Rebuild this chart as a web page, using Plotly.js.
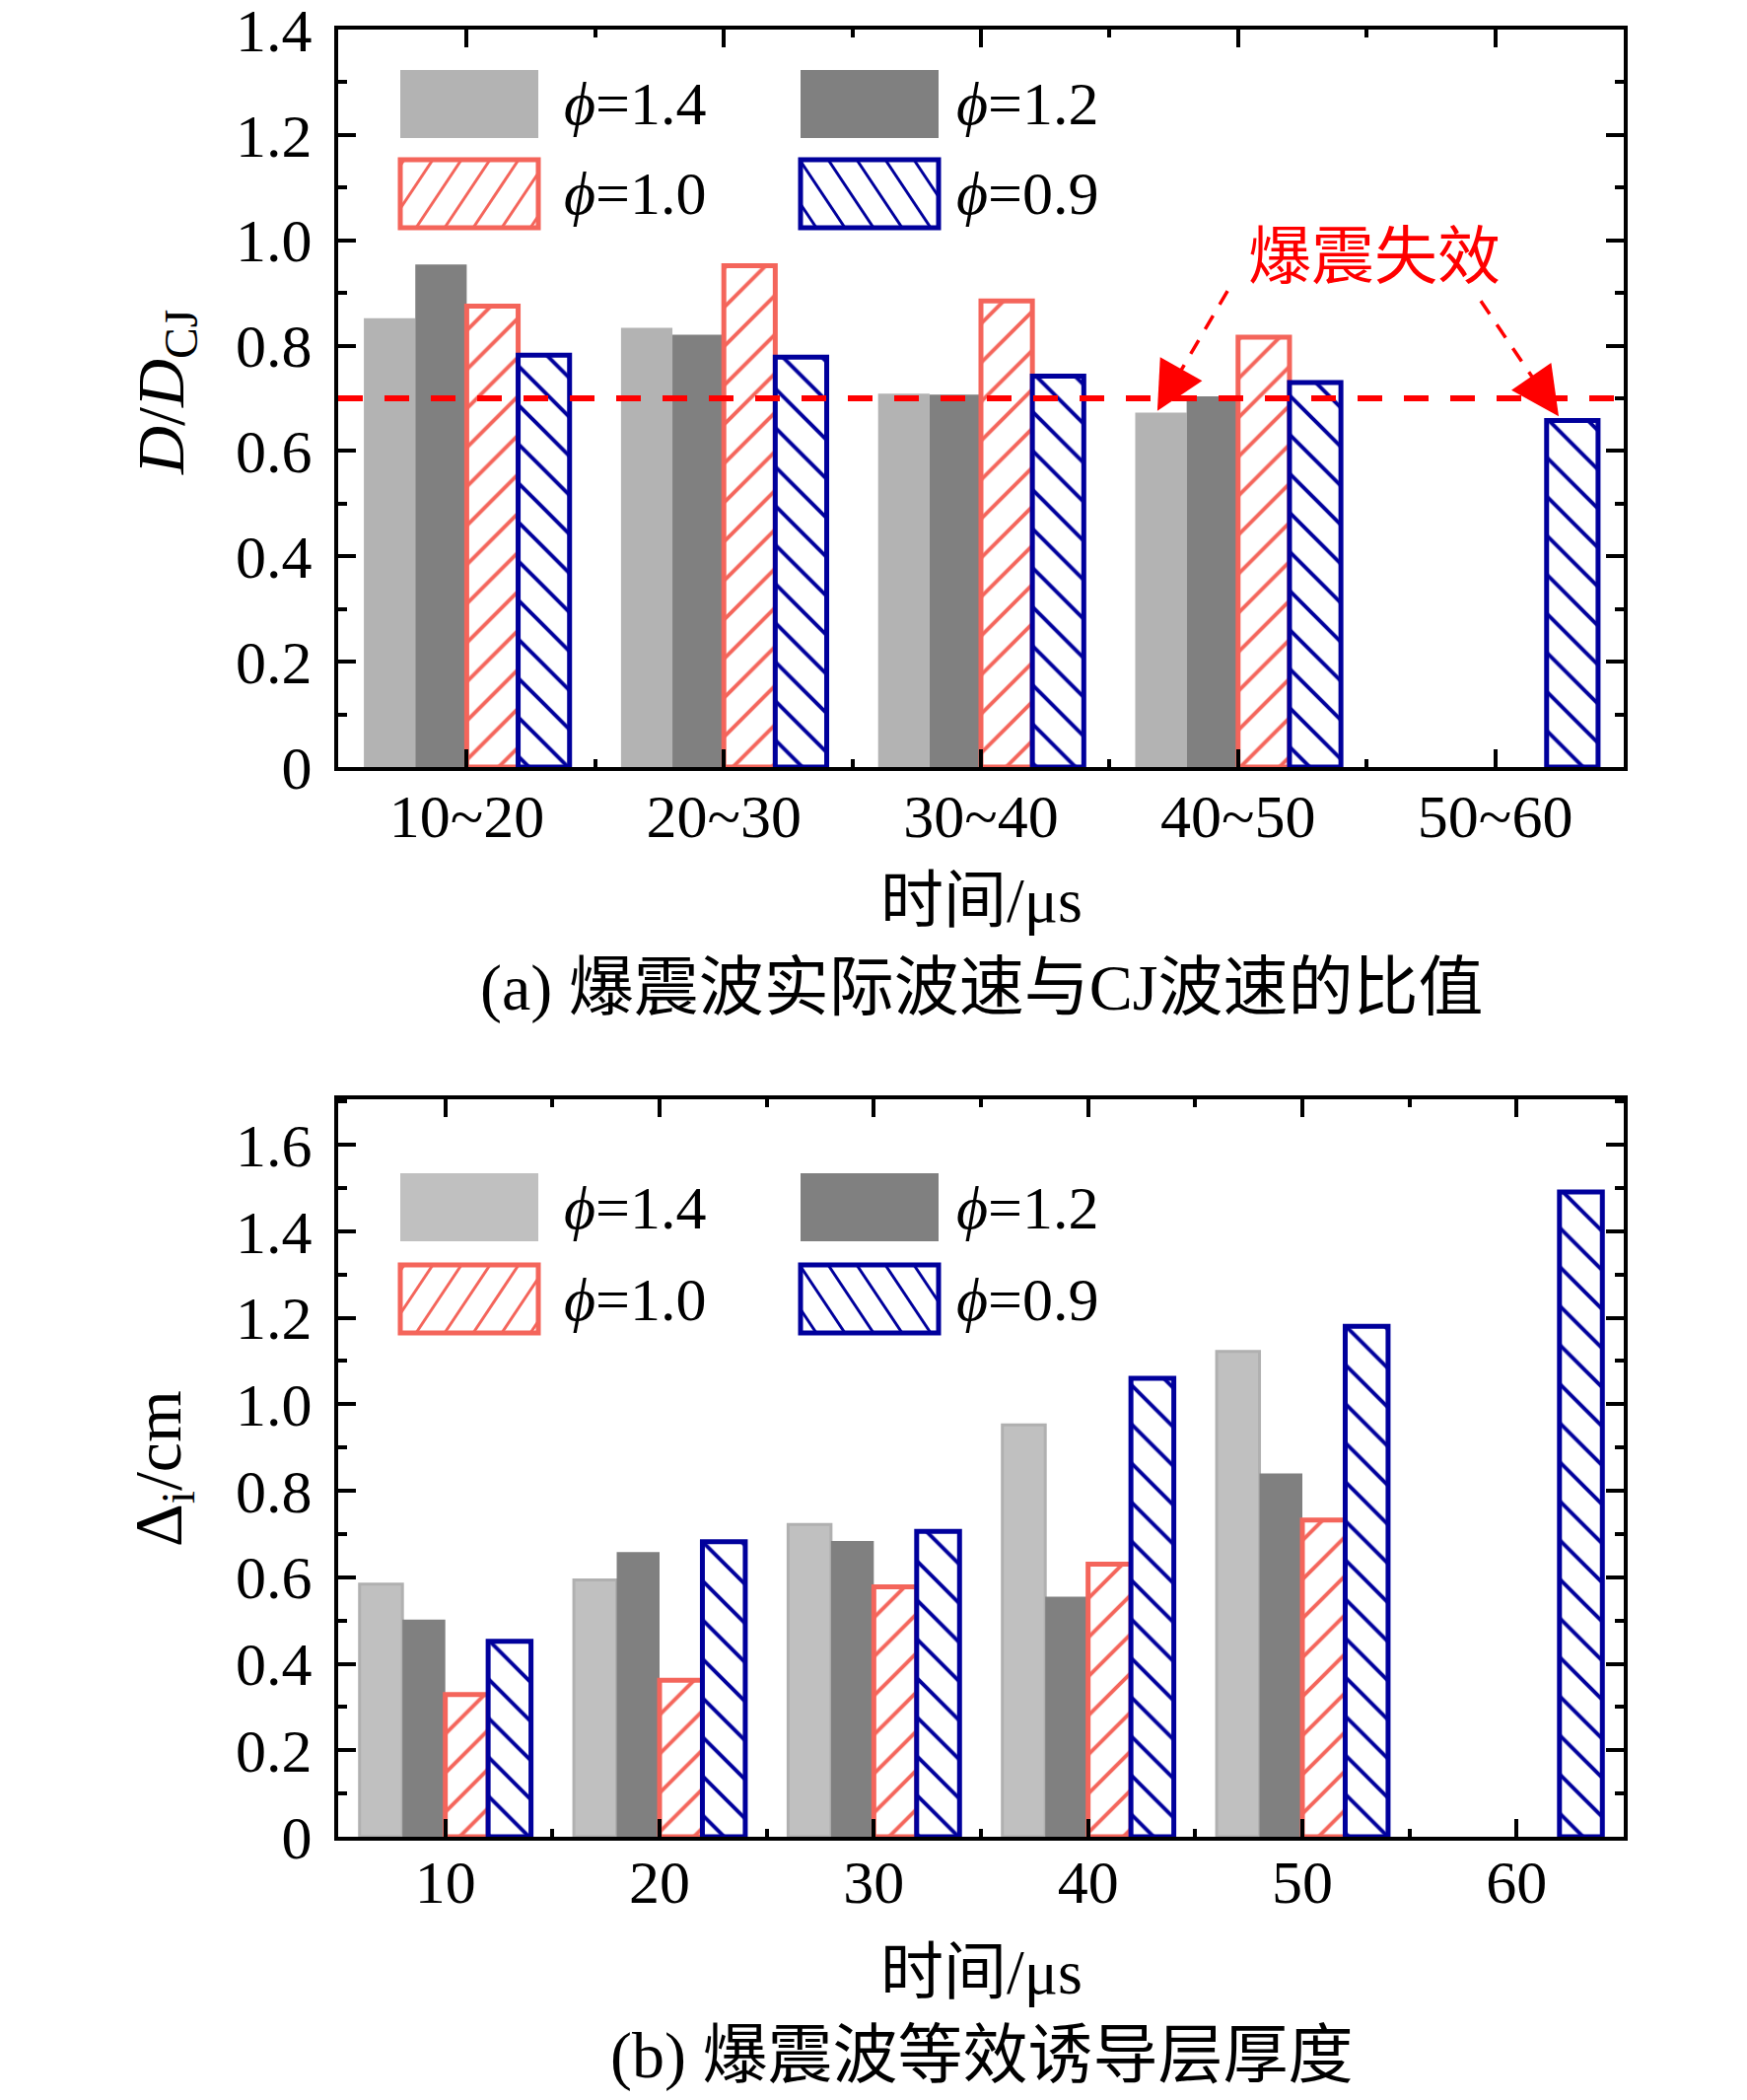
<!DOCTYPE html>
<html>
<head>
<meta charset="utf-8">
<script src="https://cdn.plot.ly/plotly-3.0.1.min.js"></script>
<style>
  html, body { margin: 0; padding: 0; background: #fff; }
  #chart { width: 1772px; height: 2130px; }
</style>
</head>
<body>
<div id="chart"></div>
<script>
// ---- data ----
const timeA = ['10~20', '20~30', '30~40', '40~50', '50~60'];
const ratio14 = [0.852, 0.834, 0.709, 0.673, null];
const ratio12 = [0.954, 0.821, 0.707, 0.704, null];
const ratio10 = [0.875, 0.952, 0.885, 0.816, null];
const ratio09 = [0.782, 0.778, 0.742, 0.730, 0.658];
const failLimit = 0.70;

const timeB = ['10', '20', '30', '40', '50', '60'];
const thick14 = [0.584, 0.594, 0.722, 0.952, 1.122, null];
const thick12 = [0.502, 0.658, 0.684, 0.555, 0.840, null];
const thick10 = [0.329, 0.362, 0.578, 0.630, 0.732, null];
const thick09 = [0.452, 0.682, 0.706, 1.060, 1.180, 1.491];

const seriesNames = ['<i>ϕ</i>=1.4', '<i>ϕ</i>=1.2', '<i>ϕ</i>=1.0', '<i>ϕ</i>=0.9'];
const yTicksA = ['0', '0.2', '0.4', '0.6', '0.8', '1.0', '1.2', '1.4'];
const yTicksB = ['0', '0.2', '0.4', '0.6', '0.8', '1.0', '1.2', '1.4', '1.6'];

// ---- look ----
const FONT = 'Liberation Serif, Times New Roman, Noto Sans CJK SC, serif';
const GREY_L = '#b3b3b3', GREY_L2 = '#c0c0c0', GREY_D = '#808080';
const RED = '#f4655b', NAVY = '#00009c', FAIL = '#ff0000';

// figure geometry in pixels
const W = 1772, H = 2130;
const M = {l: 343, r: 125, t: 30, b: 267};
const PW = W - M.l - M.r, PH = H - M.t - M.b;
const px = x => (x - M.l) / PW;
const py = y => (H - M.b - y) / PH;

function barTraces(xs, vals, xa, ya, light) {
    const idx = xs.map((_, i) => i);
    return [
        {x: idx, y: vals[0], type: 'bar', xaxis: xa, yaxis: ya,
         marker: {color: light, line: {color: light === GREY_L2 ? '#b0b0b0' : light, width: light === GREY_L2 ? 3 : 0}}},
        {x: idx, y: vals[1], type: 'bar', xaxis: xa, yaxis: ya,
         marker: {color: GREY_D, line: {width: 0}}},
        {x: idx, y: vals[2], type: 'bar', xaxis: xa, yaxis: ya,
         marker: {color: 'white', line: {color: RED, width: 5},
                  pattern: {shape: '/', fgcolor: RED, bgcolor: 'white', size: 28, solidity: 0.14}}},
        {x: idx, y: vals[3], type: 'bar', xaxis: xa, yaxis: ya,
         marker: {color: 'white', line: {color: NAVY, width: 5},
                  pattern: {shape: '\\', fgcolor: NAVY, bgcolor: 'white', size: 28, solidity: 0.14}}}
    ].map(t => Object.assign(t, {showlegend: false, hoverinfo: 'skip'}));
}

// hatch lines clipped to a pixel rectangle, returned as paper-coord shapes
function hatch(x0, y0, x1, y1, dir, step, color, width) {
    const out = [];
    const k = 1.5;                    // legend hatch is steeper than 45 degrees
    for (let c = -3000; c < 5000; c += step) {
        // line through (c, y1) with slope k (screen coords, y down)
        const dx = dir === '/' ? 1 : -1;
        const pts = [];
        for (let t = -200; t <= 200; t += 0.5) {
            const x = c + dx * t, y = y1 - k * t;
            if (x >= x0 && x <= x1 && y >= y0 && y <= y1) pts.push([x, y]);
        }
        if (pts.length > 2) {
            const a = pts[0], b = pts[pts.length - 1];
            out.push({type: 'line', xref: 'paper', yref: 'paper',
                      x0: px(a[0]), y0: py(a[1]), x1: px(b[0]), y1: py(b[1]),
                      line: {color: color, width: width}});
        }
    }
    return out;
}

function legend(row1, row2, light) {
    const cols = [406, 812], wSw = 140, hSw = 69, textX = [570, 968];
    const shapes = [], notes = [];
    const rect = (x0, y0, fill, lc, lw) => ({
        type: 'rect', xref: 'paper', yref: 'paper',
        x0: px(x0), x1: px(x0 + wSw), y0: py(y0), y1: py(y0 + hSw),
        fillcolor: fill, line: {color: lc, width: lw}
    });
    shapes.push(rect(cols[0], row1, light, light, 0));
    shapes.push(rect(cols[1], row1, GREY_D, GREY_D, 0));
    shapes.push(rect(cols[0], row2, 'white', RED, 0));
    shapes.push(...hatch(cols[0], row2, cols[0] + wSw, row2 + hSw, '/', 29, RED, 3));
    shapes.push(rect(cols[0], row2, 'rgba(0,0,0,0)', RED, 5));
    shapes.push(rect(cols[1], row2, 'white', NAVY, 0));
    shapes.push(...hatch(cols[1], row2, cols[1] + wSw, row2 + hSw, '\\', 29, NAVY, 3));
    shapes.push(rect(cols[1], row2, 'rgba(0,0,0,0)', NAVY, 5));
    const rows = [row1, row1, row2, row2];
    seriesNames.forEach((name, i) => {
        notes.push({xref: 'paper', yref: 'paper', x: px(textX[i % 2]), y: py(rows[i] + hSw / 2),
                    xanchor: 'left', yanchor: 'middle', showarrow: false, text: name,
                    font: {family: FONT, size: 62, color: '#000'}});
    });
    return {shapes, notes};
}

const traces = [
    ...barTraces(timeA, [ratio14, ratio12, ratio10, ratio09], 'x', 'y', GREY_L),
    ...barTraces(timeB, [thick14, thick12, thick10, thick09], 'x2', 'y2', GREY_L2)
];

function xAxis(cats, domainAnchor, standoff) {
    return {
        anchor: domainAnchor, type: 'linear', range: [-0.5, cats.length - 0.5],
        tickmode: 'array', tickvals: cats.map((_, i) => i), ticktext: cats,
        ticks: 'inside', ticklen: 18, tickwidth: 4, tickcolor: '#000',
        minor: {tickmode: 'array', tickvals: cats.slice(1).map((_, i) => i + 0.5),
                ticks: 'inside', ticklen: 8, tickwidth: 4, tickcolor: '#000'},
        showline: true, linewidth: 4, linecolor: '#000', mirror: 'allticks',
        showgrid: false, zeroline: false, fixedrange: true, ticklabeloverflow: 'allow',
        tickfont: {family: FONT, size: 62, color: '#000'}, ticklabelstandoff: standoff
    };
}
function yAxis(labels, top, domain, anchor) {
    return {
        anchor: anchor, domain: domain, range: [0, top],
        tickmode: 'array', tickvals: labels.map(Number), ticktext: labels,
        ticks: 'inside', ticklen: 18, tickwidth: 4, tickcolor: '#000',
        minor: {tickmode: 'linear', tick0: 0, dtick: 0.1, ticks: 'inside', ticklen: 9, tickwidth: 4, tickcolor: '#000'},
        showline: true, linewidth: 4, linecolor: '#000', mirror: 'allticks',
        showgrid: false, zeroline: false, fixedrange: true, ticklabeloverflow: 'allow',
        tickfont: {family: FONT, size: 62, color: '#000'}, ticklabelstandoff: 10
    };
}

const legA = legend(71, 162, GREY_L);
const legB = legend(1190, 1283, GREY_L2);

const textFont = (size, color) => ({family: FONT, size: size, color: color || '#000'});

// detonation-failure arrows: dashed shaft + solid head
const arrows = [
    {from: [2.959, 0.904], to: [2.686, 0.676], ax: 17, ay: -30},
    {from: [3.944, 0.885], to: [4.247, 0.666], ax: -20, ay: -29}
];

const shapes = [
    {type: 'line', xref: 'x domain', yref: 'y', x0: 0, x1: 1, y0: failLimit, y1: failLimit,
     line: {color: FAIL, width: 6, dash: '25px,22px'}},
    ...arrows.map(a => ({type: 'line', xref: 'x', yref: 'y', x0: a.from[0], y0: a.from[1],
                         x1: a.to[0], y1: a.to[1], line: {color: FAIL, width: 3.5, dash: '16px,13px'}})),
    ...legA.shapes, ...legB.shapes
];

const annotations = [
    ...arrows.map(a => ({xref: 'x', yref: 'y', x: a.to[0], y: a.to[1], ax: a.ax, ay: a.ay, text: ' ',
                         showarrow: true, arrowhead: 2, arrowsize: 2.8, arrowwidth: 3.5, arrowcolor: FAIL, standoff: 0})),
    {xref: 'x', yref: 'y', x: 3.53, y: 0.969, text: '爆震失效', showarrow: false,
     font: textFont(64, FAIL), xanchor: 'center', yanchor: 'middle'},
    {xref: 'paper', yref: 'paper', x: px(168), y: py(398), text: '<i>D</i>/<i>D</i><sub>CJ</sub>',
     textangle: -90, showarrow: false, font: textFont(68), xanchor: 'center', yanchor: 'middle'},
    {xref: 'paper', yref: 'paper', x: px(164), y: py(1489), text: 'Δ<sub>i</sub>/cm',
     textangle: -90, showarrow: false, font: textFont(68), xanchor: 'center', yanchor: 'middle'},
    {xref: 'paper', yref: 'paper', x: 0.5, y: py(913), text: '时间/μs', showarrow: false,
     font: textFont(64), xanchor: 'center', yanchor: 'middle'},
    {xref: 'paper', yref: 'paper', x: 0.5, y: py(1002), text: '(a) 爆震波实际波速与CJ波速的比值', showarrow: false,
     font: textFont(66), xanchor: 'center', yanchor: 'middle'},
    {xref: 'paper', yref: 'paper', x: 0.5, y: py(2000), text: '时间/μs', showarrow: false,
     font: textFont(64), xanchor: 'center', yanchor: 'middle'},
    {xref: 'paper', yref: 'paper', x: 0.5, y: py(2085), text: '(b) 爆震波等效诱导层厚度', showarrow: false,
     font: textFont(66), xanchor: 'center', yanchor: 'middle'},
    ...legA.notes, ...legB.notes
];

const layout = {
    width: W, height: H,
    margin: M,
    paper_bgcolor: 'white', plot_bgcolor: 'white',
    barmode: 'group', bargap: 0.2, bargroupgap: 0,
    showlegend: false,
    xaxis: xAxis(timeA, 'y', -7),
    yaxis: yAxis(yTicksA, 1.4001, [py(778), 1], 'x'),
    xaxis2: xAxis(timeB, 'y2', -11),
    yaxis2: yAxis(yTicksB, 1.705, [0, py(1115)], 'x2'),
    shapes: shapes,
    annotations: annotations
};

Plotly.newPlot('chart', traces, layout, {staticPlot: true});
</script>
</body>
</html>
